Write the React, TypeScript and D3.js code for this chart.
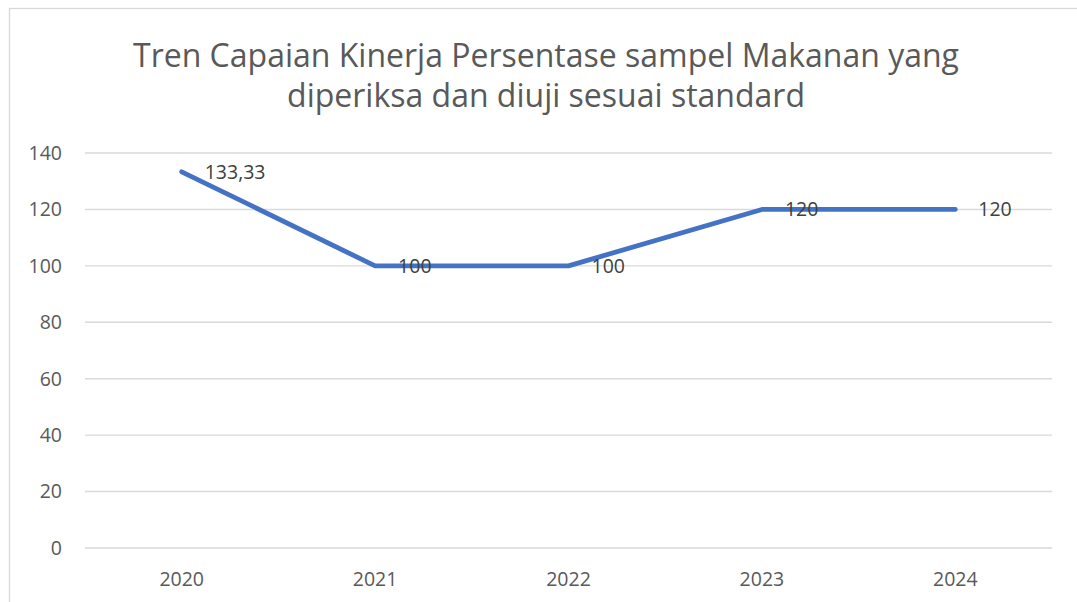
import React from "react";
import * as d3 from "d3";

const titleLines = [
  "Tren Capaian Kinerja Persentase sampel Makanan yang",
  "diperiksa dan diuji sesuai standard",
];
const categories = ["2020", "2021", "2022", "2023", "2024"];
const values = [133.33, 100, 100, 120, 120];
const valueLabels = ["133,33", "100", "100", "120", "120"];
const yTicks = [0, 20, 40, 60, 80, 100, 120, 140];

const W = 1077;
const H = 602;
const plot = { left: 85, right: 1052, top: 153, bottom: 548 };
const FONT = "'Open Sans', 'Liberation Sans', Arial, sans-serif";

export default function App() {
  const x = d3
    .scaleBand<string>()
    .domain(categories)
    .range([plot.left, plot.right]);
  const y = d3.scaleLinear().domain([0, 140]).range([plot.bottom, plot.top]);
  const cx = (c: string) => (x(c) ?? 0) + x.bandwidth() / 2;

  const line = d3
    .line<number>()
    .x((_, i) => cx(categories[i]))
    .y((d) => y(d));

  return (
    <div style={{ position: "absolute", left: 0, top: 0 }}>
      <svg width={W} height={H} style={{ display: "block", background: "#fff" }}>
        <rect
          x={9.5}
          y={8.5}
          width={W + 20}
          height={H + 20}
          fill="#fff"
          stroke="#d9d9d9"
          strokeWidth={1.3}
        />
        {titleLines.map((t, i) => (
          <text
            key={i}
            x={546}
            y={67 + i * 40}
            textAnchor="middle"
            fontFamily={FONT}
            fontSize={32}
            fill="#595959"
          >
            {t}
          </text>
        ))}
        {yTicks.map((t) => (
          <g key={t}>
            <line
              x1={plot.left}
              x2={plot.right}
              y1={y(t)}
              y2={y(t)}
              stroke="#d9d9d9"
              strokeWidth={1.4}
            />
            <text
              x={62}
              y={y(t)}
              dy="0.35em"
              textAnchor="end"
              fontFamily={FONT}
              fontSize={19.5}
              fill="#595959"
            >
              {t}
            </text>
          </g>
        ))}
        {categories.map((c) => (
          <text
            key={c}
            x={cx(c)}
            y={586}
            textAnchor="middle"
            fontFamily={FONT}
            fontSize={19.5}
            fill="#595959"
          >
            {c}
          </text>
        ))}
        <path
          d={line(values) ?? ""}
          fill="none"
          stroke="#4472c4"
          strokeWidth={4.8}
          strokeLinecap="round"
          strokeLinejoin="round"
        />
        {values.map((v, i) => (
          <text
            key={i}
            x={cx(categories[i]) + 23}
            y={y(v)}
            dy="0.35em"
            fontFamily={FONT}
            fontSize={19.5}
            fill="#404040"
          >
            {valueLabels[i]}
          </text>
        ))}
      </svg>
    </div>
  );
}
